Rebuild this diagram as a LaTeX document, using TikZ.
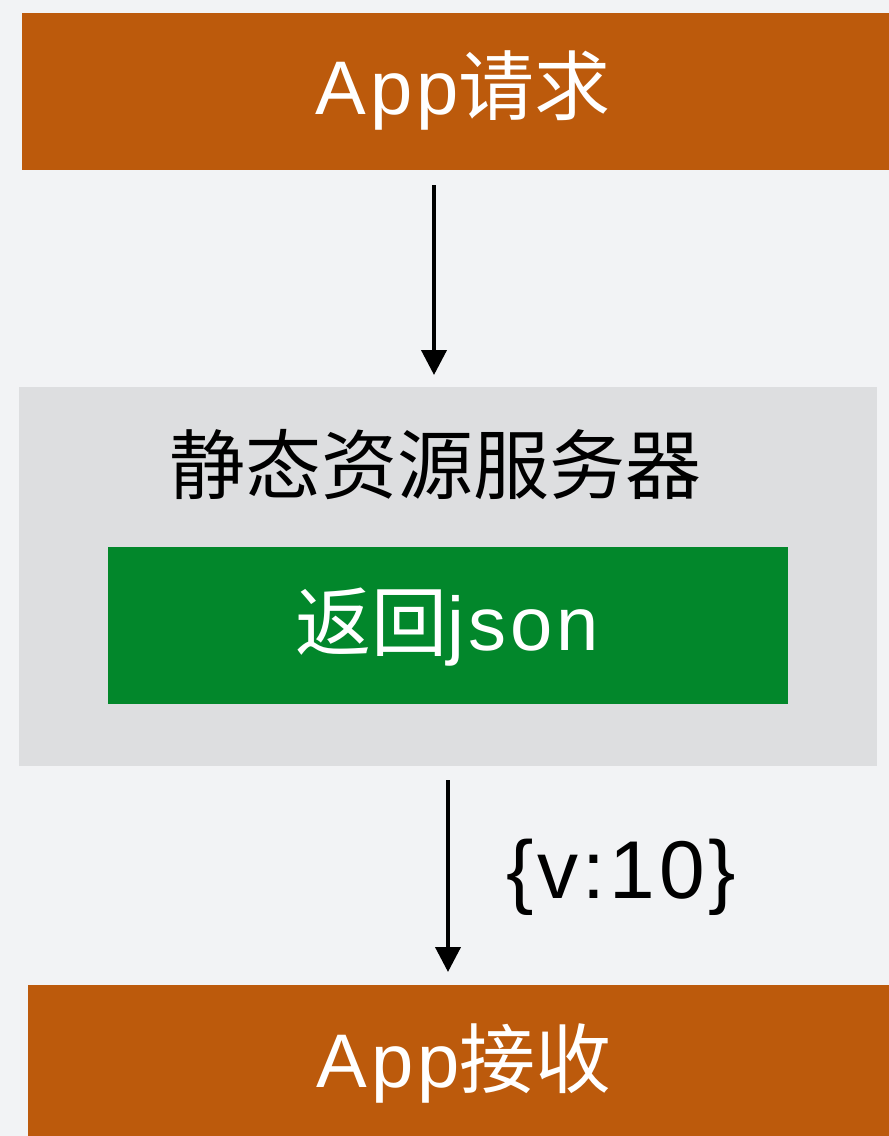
\documentclass[tikz,border=0pt]{standalone}
\usepackage{fontspec}
\setmainfont{Liberation Sans}[LetterSpace=5]
\newfontfamily\cjk{Noto Sans CJK SC}
\usetikzlibrary{arrows.meta}
\definecolor{bgc}{HTML}{F2F3F5}
\definecolor{orangec}{HTML}{BC5A0C}
\definecolor{greenc}{HTML}{02872B}
\definecolor{grayc}{HTML}{DDDEE0}
\begin{document}
\begin{tikzpicture}[x=1pt,y=-1pt,
  lbl/.style={font=\fontsize{76}{84}\selectfont,inner sep=0pt},
  arr/.style={line width=4pt,-{Triangle[length=25pt,width=25pt]}}]
\fill[bgc] (0,0) rectangle (889,1136);
\useasboundingbox (0,0) rectangle (889,1136);
\fill[orangec] (22,13) rectangle (889,170);
\node[lbl,text=white] (req) at (463,90) {App{\cjk 请求}};
\fill[grayc] (19,387) rectangle (877,766);
\node[lbl,text=black] (srv) at (435,465) {\cjk 静态资源服务器};
\fill[greenc] (108,547) rectangle (788,704);
\node[lbl,text=white] (json) at (447,627) {{\cjk 返回}json};
\fill[orangec] (28,985) rectangle (889,1136);
\node[lbl,text=white] (recv) at (464,1063) {App{\cjk 接收}};
\coordinate (a1s) at (434,185);
\coordinate (a1e) at (434,375);
\coordinate (a2s) at (448,780);
\coordinate (a2e) at (448,972);
\draw[arr] (a1s) -- (a1e);
\draw[arr] (a2s) -- (a2e);
\node[font=\fontsize{82}{90}\selectfont,text=black,anchor=west,inner sep=0pt] (val) at (506,877) {\{v:10\}};
\end{tikzpicture}
\end{document}
